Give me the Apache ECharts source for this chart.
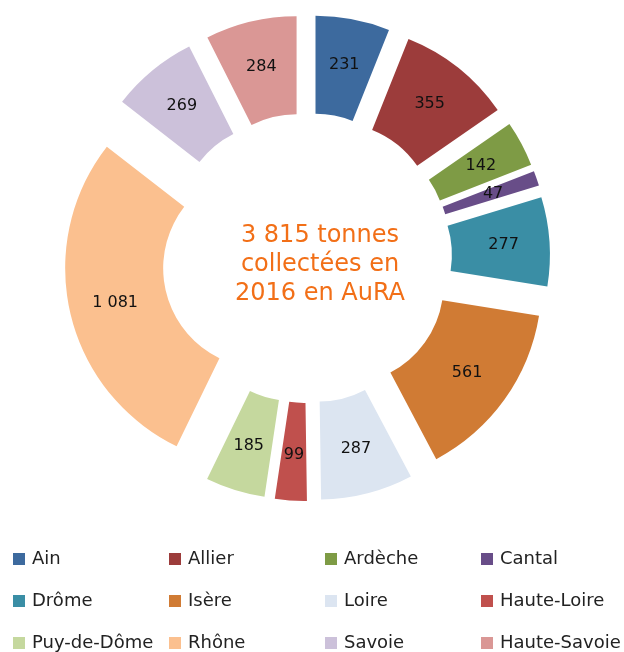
<!DOCTYPE html>
<html>
<head>
<meta charset="utf-8">
<script src="https://cdn.jsdelivr.net/npm/echarts@6/dist/echarts.min.js"></script>
<style>
html,body{margin:0;padding:0;background:#fff;}
#chart{width:624px;height:652px;}
</style>
</head>
<body>
<div id="chart"></div>
<script>
const categories = ['Ain','Allier','Ardèche','Cantal','Drôme','Isère','Loire','Haute-Loire','Puy-de-Dôme','Rhône','Savoie','Haute-Savoie'];
const values = [231,355,142,47,277,561,287,99,185,1081,269,284];
const centerLines = ['3 815 tonnes','collectées en','2016 en AuRA'];
const colors = ['#3D6A9E','#9C3C3B','#7E9B45','#684D88','#3A8EA5','#D07B34','#DCE5F1','#C0504D','#C5D89E','#FBC08F','#CCC1DA','#DA9795'];

function fmt(v){ return String(v).replace(/\B(?=(\d{3})+(?!\d))/g,' '); }

const chart = echarts.init(document.getElementById('chart'), null, {renderer:'canvas'});
const colX = [13,169,325,481];
const rowY = [550,592,634];
const legends = categories.map((c,i)=>({
  show:true,
  selectedMode:false,
  data:[c],
  left: colX[i%4],
  top: rowY[Math.floor(i/4)],
  orient:'horizontal',
  padding:0,
  icon:'rect',
  itemWidth:12,
  itemHeight:12,
  itemGap:0,
  textStyle:{fontFamily:'DejaVu Sans',fontSize:18,color:'#222',lineHeight:18,padding:[0,0,0,2]}
}));

chart.setOption({
  animation:false,
  backgroundColor:'#fff',
  legend: legends,
  graphic:[{
    type:'text',
    x:320, y:265,
    style:{
      text: centerLines.join('\n'),
      fill:'#F26F17',
      font:'24px "DejaVu Sans"',
      lineHeight:29,
      align:'center',
      verticalAlign:'middle'
    }
  }],
  series:[{
    type:'pie',
    center:[307,258],
    radius:[100,198],
    startAngle:90,
    clockwise:true,
    selectedMode:'multiple',
    selectedOffset:45,
    avoidLabelOverlap:false,
    emphasis:{disabled:true},
    label:{
      show:true,
      position:'inside',
      formatter: p => fmt(p.value),
      color:'#111',
      fontFamily:'DejaVu Sans',
      fontSize:16
    },
    labelLine:{show:false},
    data: categories.map((c,i)=>({name:c,value:values[i],selected:true,itemStyle:{color:colors[i]}}))
  }]
});
</script>
</body>
</html>
